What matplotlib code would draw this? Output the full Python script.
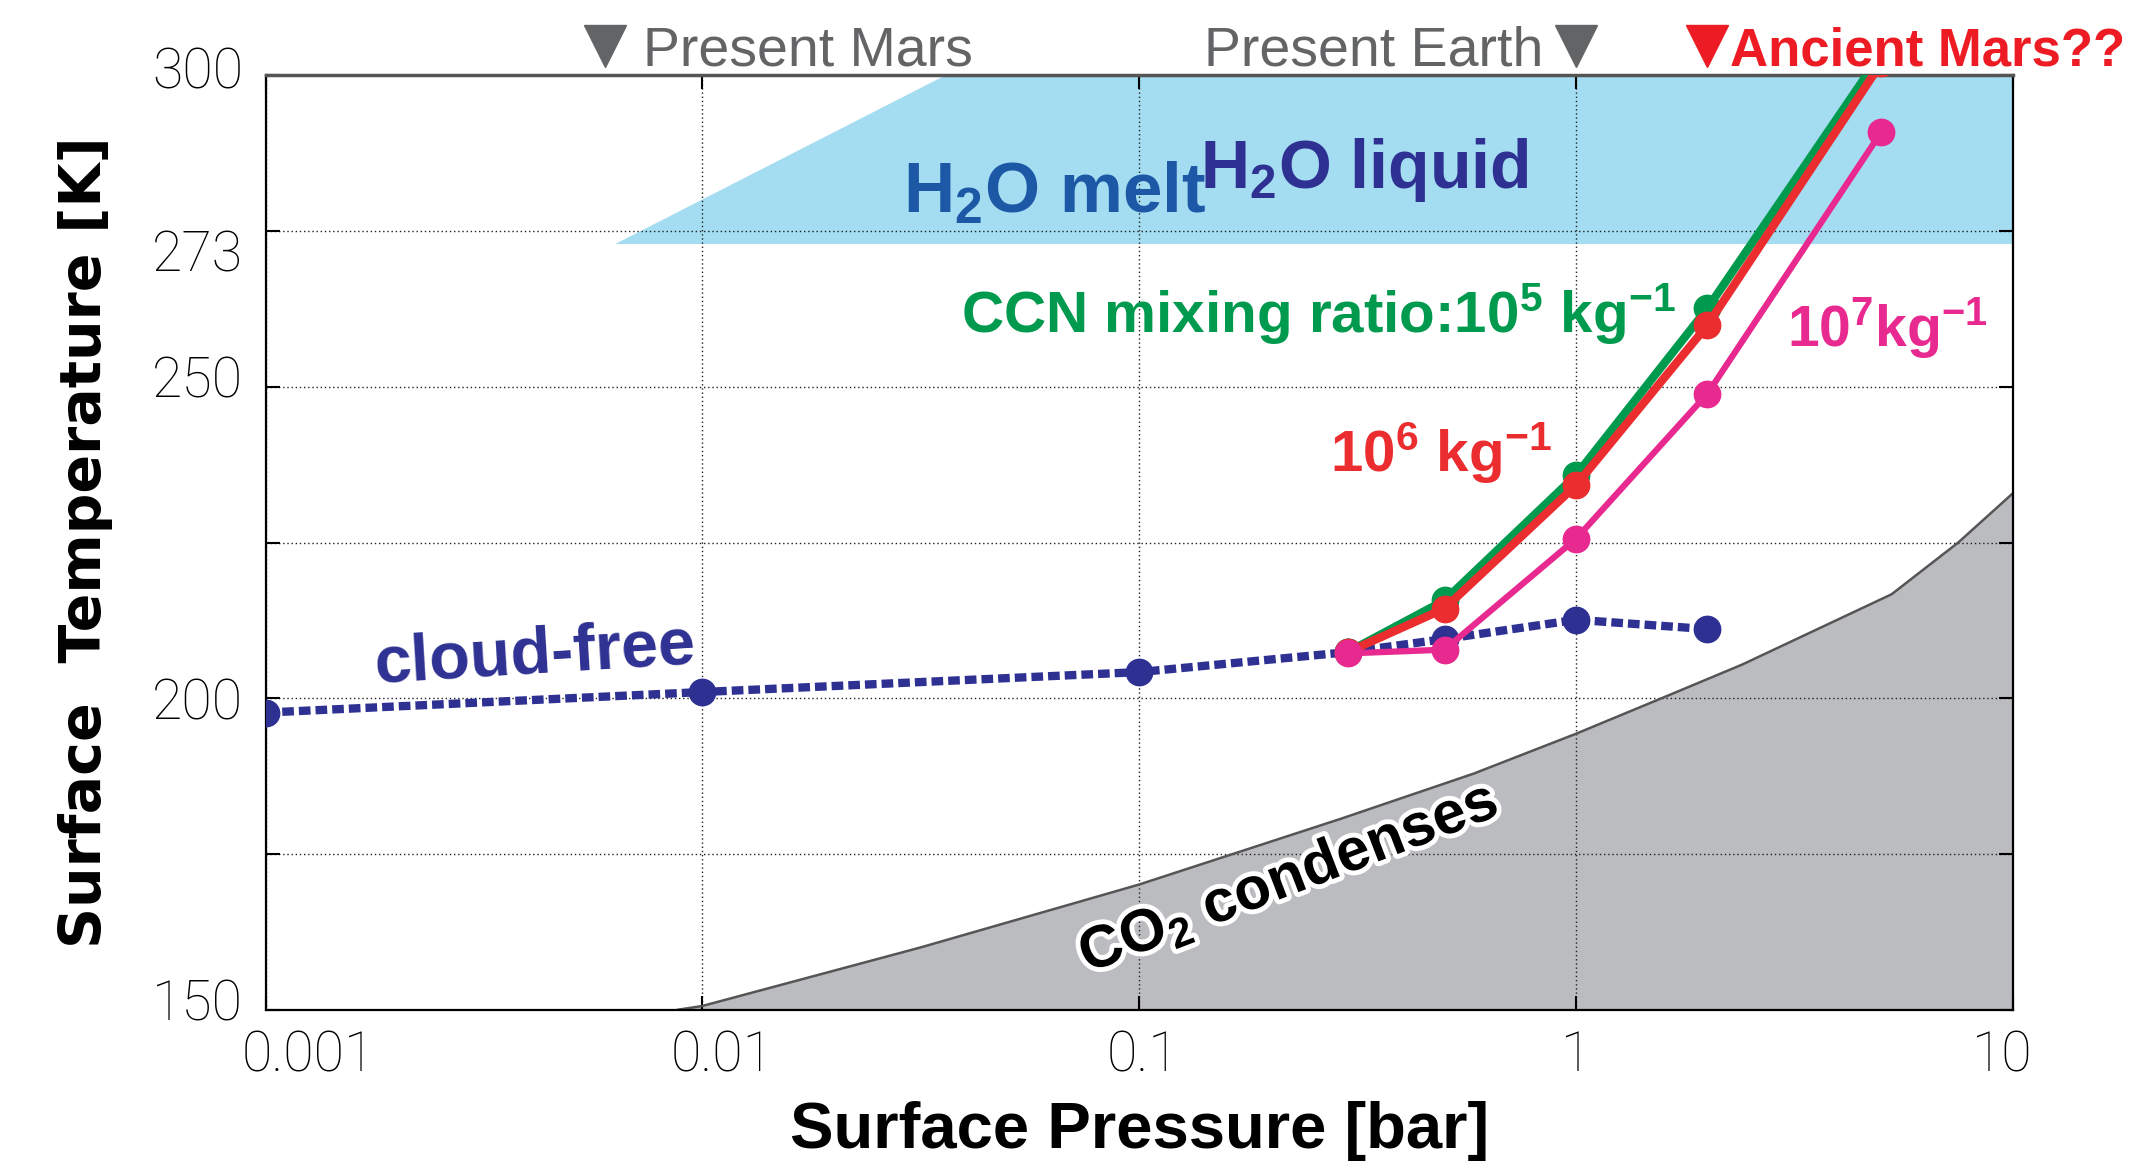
import numpy as np
import matplotlib
matplotlib.use('Agg')
import matplotlib.pyplot as plt
import matplotlib.patheffects as pe
import matplotlib.transforms as mtransforms

plt.rcParams['font.family'] = ['Liberation Sans', 'DejaVu Sans']
plt.rcParams['mathtext.default'] = 'regular'

# cloud-free run
p_free = [0.001, 0.01, 0.1, 0.3, 0.5, 1, 2]
T_free = [197.7, 201.0, 204.2, 207.4, 209.5, 212.6, 211.1]

# cloudy runs, by CCN mixing ratio
p_cloud = [0.3, 0.5, 1, 2, 5]
T_ccn5 = [207.4, 215.7, 235.8, 262.6, 303.5]
T_ccn6 = [207.4, 214.4, 234.2, 259.9, 302.0]
T_ccn7 = [207.2, 207.8, 225.6, 248.9, 290.9]

# CO2 condensation curve
p_co2 = [0.0088, 0.01, 0.0316, 0.1, 0.288, 0.583, 1.0, 1.57, 2.4, 5.28, 7.5, 10]
T_co2 = [150, 150.6, 160.0, 170.1, 180.6, 187.9, 194.3, 200, 205.4, 216.7, 225, 232.9]

# H2O liquid region
p_liq = [0.0063, 0.0357, 10]
T_liq = [273, 300, 300]

# reference pressures marked on top
p_mars, p_earth, p_ancient = 0.006, 1, 2

yticks = [150, 175, 200, 225, 250, 275, 300]
ylabels = ['150', '', '200', '', '250', '273', '300']
xticks = [0.001, 0.01, 0.1, 1, 10]
xlabels = ['0.001', '0.01', '0.1', '1', '10']

navy = '#2e3192'
green = '#009a4e'
red = '#ec2d30'
pink = '#e8298f'
gray = '#636466'

fig = plt.figure(figsize=(21.47, 11.7), dpi=100)
ax = fig.add_axes([0.1237, 0.137, 0.8138, 0.7986])
ax.set_xscale('log')
ax.set_xlim(0.001, 10)
ax.set_ylim(150, 300)

ax.fill_between(p_liq, T_liq, 273, color='#a4dcf1', lw=0, zorder=1)
ax.fill_between(p_co2, T_co2, 150, color='#bbbcc0', lw=0, zorder=1)
ax.plot(p_co2, T_co2, color='#555555', lw=1.8, zorder=2)

ax.plot(p_free, T_free, color=navy, lw=6, dashes=(1.4, 0.6), dash_capstyle='butt',
        marker='o', ms=19, zorder=3)
ax.plot(p_cloud, T_ccn5, color=green, lw=6, marker='o', ms=19, zorder=4)
ax.plot(p_cloud, T_ccn6, color=red, lw=6, marker='o', ms=19, zorder=5)
ax.plot(p_cloud, T_ccn7, color=pink, lw=4.5, marker='o', ms=19, zorder=6)

ax.set_xticks(xticks)
ax.set_xticklabels(xlabels)
ax.minorticks_off()
ax.set_yticks(yticks)
ax.set_yticklabels(ylabels)
ax.tick_params(direction='in', length=10, width=1.5, top=True, right=True,
               labelsize=40, colors='black')
ax.tick_params(axis='x', pad=14)
ax.tick_params(axis='y', pad=16)
for lab in ax.get_xticklabels() + ax.get_yticklabels():
    lab.set_family(['Roboto', 'Liberation Sans'])
    lab.set_fontweight('light')

# hand-placed tick labels in the original (pixel shifts)
x_shift = [43, 20, 4, 0, -11]
for lab, dx in zip(ax.get_xticklabels(), x_shift):
    lab.set_transform(lab.get_transform() +
                      mtransforms.ScaledTranslation(dx / 100, 0, fig.dpi_scale_trans))
y_shift = [10, 0, 0, 0, 10, -19, 8]
for lab, dy in zip(ax.get_yticklabels(), y_shift):
    lab.set_transform(lab.get_transform() +
                      mtransforms.ScaledTranslation(0, dy / 100, fig.dpi_scale_trans))

ax.grid(True, color='#222222', lw=1.0, ls=(0, (1, 2)))
for s in ax.spines.values():
    s.set_linewidth(1.6)
ax.spines['top'].set_color('#555555')
ax.spines['top'].set_linewidth(2.5)

# labels
fig.text(0.5306, 0.019, 'Surface Pressure [bar]', fontsize=47, fontweight='bold',
         ha='center', va='baseline')
fig.text(0.027, 0.5363, 'Surface  Temperature [K]', fontsize=41, fontweight='bold',
         family='DejaVu Sans', rotation=90, ha='left', va='center')

# annotations inside the plot
ax.text(0.0288, 277.9, 'H$_2$O melt', color='#1c58a6', fontsize=51, fontweight='bold',
        va='baseline', zorder=7)
ax.text(0.1377, 281.9, 'H$_2$O liquid', color=navy, fontsize=49, fontweight='bold',
        va='baseline', zorder=7)
ax.text(0.039, 258.8, 'CCN mixing ratio:10$^5$ kg$^{-1}$', color=green, fontsize=42,
        fontweight='bold', va='baseline', zorder=7)
ax.text(0.2734, 236.3, '10$^6$ kg$^{-1}$', color=red, fontsize=42, fontweight='bold',
        va='baseline', zorder=7)
ax.text(3.04, 256.5, '10$^7$kg$^{-1}$', color=pink, fontsize=41, fontweight='bold',
        va='baseline', zorder=7)
ax.text(0.00178, 202.6, 'cloud-free', color=navy, fontsize=48, fontweight='bold',
        rotation=3.5, rotation_mode='anchor', va='baseline', zorder=7)
ax.text(0.22, 171.0, 'CO$_2$ condenses', color='black', fontsize=43, fontweight='bold',
        rotation=21, rotation_mode='anchor', ha='center', va='center', zorder=7,
        path_effects=[pe.withStroke(linewidth=7, foreground='white')])

# markers above the plot
trans = ax.get_xaxis_transform()
ax.plot([p_mars, p_earth], [1.031, 1.031], 'v', color=gray, ms=30, transform=trans,
        clip_on=False)
ax.plot([p_ancient], [1.031], 'v', color='#ed1c24', ms=30, transform=trans, clip_on=False)
ax.text(0.0073, 1.0103, 'Present Mars', color=gray, fontsize=40, transform=trans,
        va='baseline')
ax.text(0.841, 1.0103, 'Present Earth', color=gray, fontsize=40, transform=trans,
        va='baseline', ha='right')
ax.text(2.25, 1.0103, 'Ancient Mars??', color='#ed1c24', fontsize=38, fontweight='bold',
        transform=trans, va='baseline')

fig.savefig('out.png', dpi=100)
